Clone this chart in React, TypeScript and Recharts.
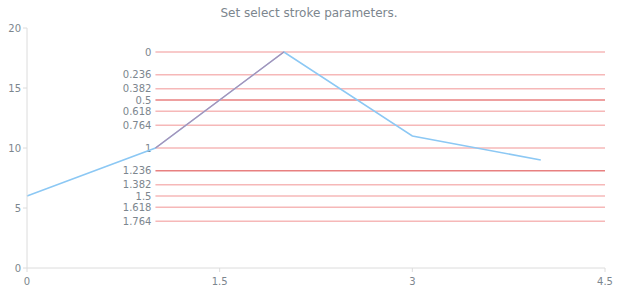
import React from 'react';
import { LineChart, Line, XAxis, YAxis, ReferenceLine } from 'recharts';

const xValues = [0, 1, 2, 3, 4];
const yValues = [6, 10, 18, 11, 9];
const xTicks = [0, 1.5, 3, 4.5];
const yTicks = [0, 5, 10, 15, 20];

// fibonacci retracement anchors (from point index 1 to index 2)
const fibFrom = 1;
const fibTo = 2;
const fibRightX = 4.5;
const fibLevels = [0, 0.236, 0.382, 0.5, 0.618, 0.764, 1, 1.236, 1.382, 1.5, 1.618, 1.764];
const strongLevels = [0.5, 1.236];

const data = xValues.map((x, i) => ({ x, y: yValues[i] }));

const textColor = '#7c868e';
const font = 'DejaVu Sans, sans-serif';

const FibLabel = (text: string) => (props: any) => {
  const vb = props.viewBox || {};
  return (
    <text x={vb.x - 4} y={vb.y} dy={3.5} textAnchor="end" fontSize={10} fill={textColor} fontFamily={font}>
      {text}
    </text>
  );
};

const App: React.FC = () => {
  const top = yValues[fibTo];
  const bottom = yValues[fibFrom];
  return (
    <div style={{ position: 'absolute', left: 0, top: 0, width: 620, height: 300, background: '#fff', fontFamily: font }}>
      <div
        style={{
          position: 'absolute',
          top: 6,
          left: 0,
          width: 618,
          textAlign: 'center',
          fontSize: 12,
          color: '#7c868e',
        }}
      >
        Set select stroke parameters.
      </div>
      <LineChart width={620} height={300} data={data} margin={{ top: 28, right: 15, bottom: 0, left: 0 }}>
        <XAxis
          dataKey="x"
          type="number"
          domain={[0, 4.5]}
          ticks={xTicks}
          stroke="#dcdcdc"
          tickSize={4}
          height={32}
          tick={{ fontSize: 10, fill: textColor, fontFamily: font, dy: 4 }}
        />
        <YAxis
          type="number"
          domain={[0, 20]}
          ticks={yTicks}
          stroke="#dcdcdc"
          tickSize={4}
          width={27}
          tick={{ fontSize: 10, fill: textColor, fontFamily: font }}
        />
        {fibLevels.map((lvl) => {
          const yv = top - lvl * (top - bottom);
          const strong = strongLevels.includes(lvl);
          return (
            <ReferenceLine
              key={lvl}
              segment={[
                { x: xValues[fibFrom], y: yv },
                { x: fibRightX, y: yv },
              ]}
              stroke={strong ? '#e88080' : '#f6b8b8'}
              strokeWidth={1.5}
              label={FibLabel(String(lvl))}
              ifOverflow="visible"
            />
          );
        })}
        <Line
          type="linear"
          dataKey="y"
          stroke="#8cc8f4"
          strokeWidth={1.5}
          dot={false}
          isAnimationActive={false}
        />
        <ReferenceLine
          segment={[
            { x: xValues[fibFrom], y: bottom },
            { x: xValues[fibTo], y: top },
          ]}
          stroke="#ab8fb3"
          strokeWidth={1.2}
          ifOverflow="visible"
        />
      </LineChart>
    </div>
  );
};

export default App;
